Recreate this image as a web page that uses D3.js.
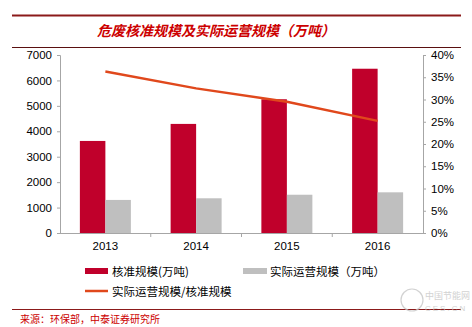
<!DOCTYPE html>
<html>
<head>
<meta charset="utf-8">
<script src="https://cdn.jsdelivr.net/npm/d3@7/dist/d3.min.js"></script>
<style>
  html, body { margin: 0; padding: 0; background: #fff; }
  svg { display: block; }
  .tick text { font-family: "Liberation Sans", Arial, sans-serif; font-size: 11.5px; fill: #000; }
  .cjk { font-family: "Noto Sans CJK SC", sans-serif; }
</style>
</head>
<body>
<svg id="chart" width="472" height="327"></svg>
<script>
// Data
const years = ["2013", "2014", "2015", "2016"];
const approved = [3620, 4290, 5260, 6460];      // 核准规模（万吨）
const operating = [1300, 1365, 1505, 1600];     // 实际运营规模（万吨）
const ratio = [0.363, 0.325, 0.295, 0.252];     // 实际运营规模/核准规模
const leftTicks = [0, 1000, 2000, 3000, 4000, 5000, 6000, 7000];
const rightTicks = [0, 0.05, 0.10, 0.15, 0.20, 0.25, 0.30, 0.35, 0.40];

const svg = d3.select("#chart");
const plot = { left: 60, right: 423, top: 55, bottom: 233 };

const x = d3.scaleBand().domain(years).range([plot.left, plot.right]).paddingInner(0).paddingOuter(0);
const inner = d3.scaleBand().domain(["a", "o"]).range([x.bandwidth() / 2 - 25.5, x.bandwidth() / 2 + 25.5]);
const yL = d3.scaleLinear().domain([0, 7000]).range([plot.bottom, plot.top]);
const yR = d3.scaleLinear().domain([0, 0.4]).range([plot.bottom, plot.top]);

const red = "#c0002b", gray = "#bfbfbf", orange = "#e0481c", axisColor = "#a6a6a6";

// Title block
svg.append("line").attr("x1", 12).attr("x2", 461).attr("y1", 15.5).attr("y2", 15.5)
  .attr("stroke", "#8b1a1a").attr("stroke-width", 2);
svg.append("line").attr("x1", 12).attr("x2", 461).attr("y1", 47.5).attr("y2", 47.5)
  .attr("stroke", "#5a1010").attr("stroke-width", 1);
svg.append("text").attr("class", "cjk").attr("x", 216).attr("y", 36)
  .attr("text-anchor", "middle").attr("font-size", 14).attr("font-weight", "bold")
  .attr("font-style", "italic").attr("fill", "#cc0000")
  .text("危废核准规模及实际运营规模（万吨）");

// Bars
const groups = svg.append("g").selectAll("g").data(years).join("g")
  .attr("transform", d => `translate(${x(d)},0)`);
groups.append("rect")
  .attr("x", inner("a")).attr("width", inner.bandwidth())
  .attr("y", (d, i) => yL(approved[i])).attr("height", (d, i) => yL(0) - yL(approved[i]))
  .attr("fill", red);
groups.append("rect")
  .attr("x", inner("o")).attr("width", inner.bandwidth())
  .attr("y", (d, i) => yL(operating[i])).attr("height", (d, i) => yL(0) - yL(operating[i]))
  .attr("fill", gray);

// Ratio line
const line = d3.line()
  .x((d, i) => x(years[i]) + x.bandwidth() / 2)
  .y(d => yR(d));
svg.append("path").datum(ratio).attr("d", line)
  .attr("fill", "none").attr("stroke", orange).attr("stroke-width", 2.5);

// Axes
const leftAxis = svg.append("g").attr("transform", `translate(${plot.left},0)`)
  .call(d3.axisLeft(yL).tickValues(leftTicks).tickFormat(d3.format("d")).tickSize(3).tickPadding(5));
leftAxis.selectAll(".tick text").attr("font-size", 12);
const rightAxis = svg.append("g").attr("transform", `translate(${plot.right},0)`)
  .call(d3.axisRight(yR).tickValues(rightTicks).tickFormat(d3.format(".0%")).tickSize(3).tickPadding(5));
const bottomAxis = svg.append("g").attr("transform", `translate(0,${plot.bottom})`)
  .call(d3.axisBottom(x).tickSize(0).tickPadding(9));
[leftAxis, rightAxis, bottomAxis].forEach(g => {
  g.selectAll(".domain").attr("stroke", axisColor);
  g.selectAll(".tick line").attr("stroke", axisColor);
});
bottomAxis.select(".domain").attr("d", `M${plot.left},0.5H${plot.right}`);
// Category boundary ticks
svg.append("g").selectAll("line").data(years.slice(1)).join("line")
  .attr("x1", d => x(d)).attr("x2", d => x(d))
  .attr("y1", plot.bottom).attr("y2", plot.bottom + 4)
  .attr("stroke", axisColor);

// Legend
const legend = svg.append("g").attr("class", "cjk").attr("font-size", 11.5).attr("fill", "#000");
legend.append("rect").attr("x", 85).attr("y", 268).attr("width", 23).attr("height", 6).attr("fill", red);
legend.append("text").attr("x", 112).attr("y", 275.5).text("核准规模(万吨)");
legend.append("rect").attr("x", 243).attr("y", 268).attr("width", 24).attr("height", 6).attr("fill", gray);
legend.append("text").attr("x", 270).attr("y", 275.5).text("实际运营规模（万吨）");
legend.append("line").attr("x1", 85).attr("x2", 108).attr("y1", 291).attr("y2", 291)
  .attr("stroke", orange).attr("stroke-width", 2.5);
legend.append("text").attr("x", 112).attr("y", 295.5).text("实际运营规模/核准规模");

// Source
svg.append("line").attr("x1", 12).attr("x2", 461).attr("y1", 309.5).attr("y2", 309.5)
  .attr("stroke", "#8b1a1a").attr("stroke-width", 1);
svg.append("text").attr("class", "cjk").attr("x", 20).attr("y", 323)
  .attr("font-size", 10).attr("fill", "#cc0000").text("来源：环保部，中泰证券研究所");

// Watermark
const wm = svg.append("g").attr("fill", "#c8c8c8").attr("opacity", 0.8);
wm.append("circle").attr("cx", 412).attr("cy", 300).attr("r", 11)
  .attr("fill", "none").attr("stroke", "#c8c8c8").attr("stroke-width", 1.2);
wm.append("text").attr("class", "cjk").attr("x", 425).attr("y", 299).attr("font-size", 9).text("中国节能网");
wm.append("text").attr("x", 425).attr("y", 311).attr("font-size", 8)
  .attr("font-family", "Liberation Sans, sans-serif").attr("letter-spacing", 2).text("CES.CN");
</script>
</body>
</html>
